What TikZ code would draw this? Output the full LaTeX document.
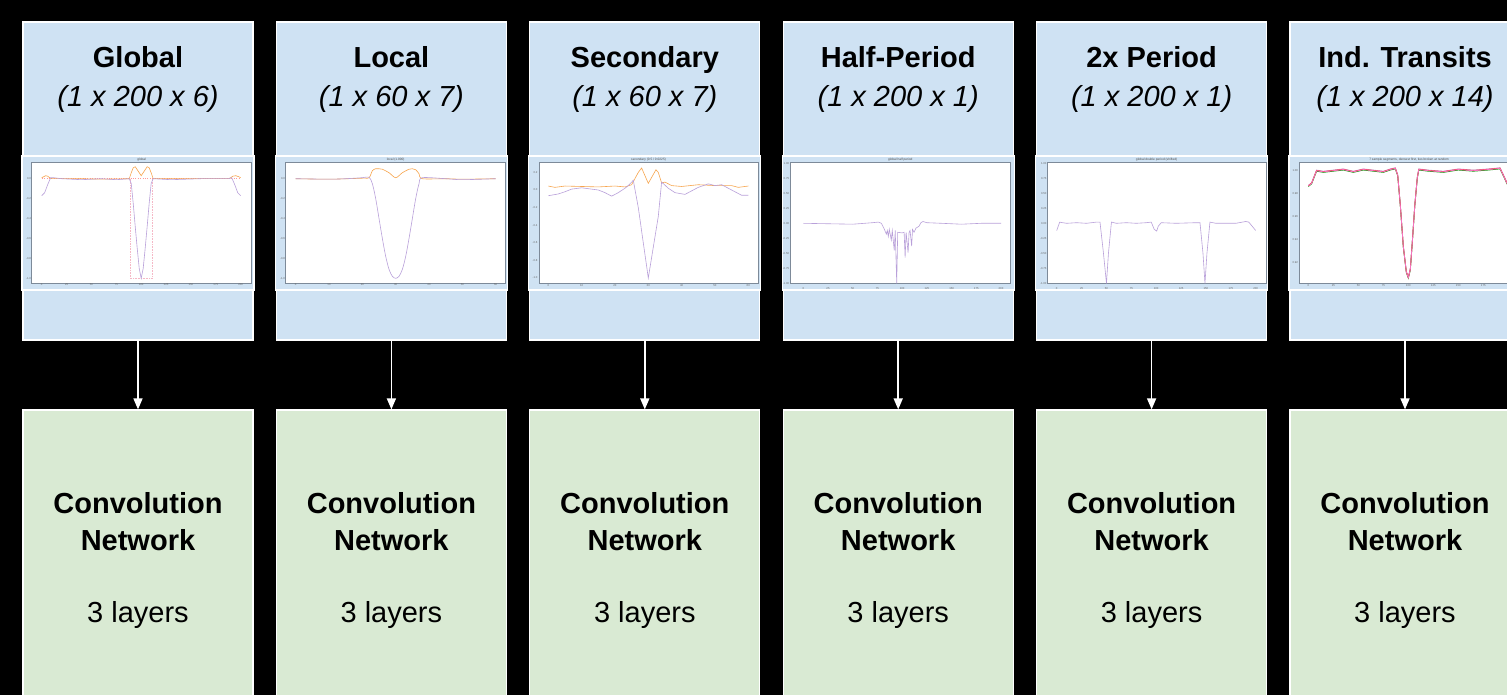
\documentclass[tikz,border=0pt]{standalone}
\usepackage{fontspec}
\setmainfont{Liberation Sans}
\usetikzlibrary{arrows.meta}
\definecolor{inblue}{HTML}{CFE2F3}
\definecolor{convgreen}{HTML}{D9EAD3}
\definecolor{curvepurple}{HTML}{B9A0DA}
\definecolor{curveorange}{HTML}{F7A54E}
\definecolor{boxpink}{HTML}{F5B8C6}
\definecolor{axgray}{HTML}{7D8A99}
\tikzset{
  inbox/.style={draw=white,line width=1.2pt,fill=inblue,minimum width=230pt,minimum height=318pt,inner sep=0pt},
  convbox/.style={draw=white,line width=1.2pt,fill=convgreen,minimum width=230pt,minimum height=300pt,inner sep=0pt,align=center,font=\fontsize{29}{37}\selectfont},
  ttl/.style={anchor=base,inner sep=0pt,font=\bfseries\fontsize{29}{34}\selectfont},
  dims/.style={anchor=base,inner sep=0pt,font=\itshape\fontsize{29}{34}\selectfont},
  panel/.style={draw=white,line width=1.2pt,fill=inblue},
  axes/.style={draw=axgray,line width=0.6pt,fill=white},
  ptitle/.style={inner sep=0pt,text=black!70,font=\fontsize{3.2}{3.2}\selectfont},
  tick/.style={inner sep=0.6pt,text=black!60,font=\fontsize{2.8}{2.8}\selectfont},
  curve/.style={line width=0.6pt},
  feed/.style={draw=white,line width=1.5pt,-{Triangle[length=11pt,width=9pt]}}
}
\begin{document}
\begin{tikzpicture}[x=1pt,y=-1pt]
\useasboundingbox (0,0) rectangle (1507,695);
\clip (0,0) rectangle (1507,695);
\fill[black] (0,0) rectangle (1507,695);

% input boxes
\node[inbox] (i1) at (138,181) {};
\node[inbox] (i2) at (391.4,181) {};
\node[inbox] (i3) at (644.8,181) {};
\node[inbox] (i4) at (898.2,181) {};
\node[inbox] (i5) at (1151.6,181) {};
\node[inbox] (i6) at (1405,181) {};
\node[ttl] (g1) at (138,68) {Global};
\node[ttl] (g2) at (391.4,68) {Local};
\node[ttl] (g3) at (644.8,68) {Secondary};
\node[ttl] (g4) at (898.2,68) {Half-Period};
\node[ttl] (g5) at (1151.6,68) {2x Period};
\node[ttl] (g6) at (1405,68) {Ind. Transits};
\node[dims] (d1) at (138,107) {(1 x 200 x 6)};
\node[dims] (d2) at (391.4,107) {(1 x 60 x 7)};
\node[dims] (d3) at (644.8,107) {(1 x 60 x 7)};
\node[dims] (d4) at (898.2,107) {(1 x 200 x 1)};
\node[dims] (d5) at (1151.6,107) {(1 x 200 x 1)};
\node[dims] (d6) at (1405,107) {(1 x 200 x 14)};

% convolution boxes
\node[convbox] (n1) at (138,560) {\textbf{Convolution}\\\textbf{Network}\\[35pt]3 layers};
\node[convbox] (n2) at (391.4,560) {\textbf{Convolution}\\\textbf{Network}\\[35pt]3 layers};
\node[convbox] (n3) at (644.8,560) {\textbf{Convolution}\\\textbf{Network}\\[35pt]3 layers};
\node[convbox] (n4) at (898.2,560) {\textbf{Convolution}\\\textbf{Network}\\[35pt]3 layers};
\node[convbox] (n5) at (1151.6,560) {\textbf{Convolution}\\\textbf{Network}\\[35pt]3 layers};
\node[convbox] (n6) at (1405,560) {\textbf{Convolution}\\\textbf{Network}\\[35pt]3 layers};

\draw[feed] (i1) -- (n1);
\draw[feed] (i2) -- (n2);
\draw[feed] (i3) -- (n3);
\draw[feed] (i4) -- (n4);
\draw[feed] (i5) -- (n5);
\draw[feed] (i6) -- (n6);

% plot panels
\draw[panel] (22,156) rectangle (254,290);
\draw[panel] (275.4,156) rectangle (507.4,290);
\draw[panel] (528.8,156) rectangle (760.8,290);
\draw[panel] (782.2,156) rectangle (1014.2,290);
\draw[panel] (1035.6,156) rectangle (1267.6,290);
\draw[panel] (1289,156) rectangle (1521,290);
\draw[axes] (31.7,162) rectangle (251.7,283);
\draw[axes] (285.7,162) rectangle (505.7,283);
\draw[axes] (539,162) rectangle (758,283);
\draw[axes] (790,162) rectangle (1010.7,283);
\draw[axes] (1047.3,162) rectangle (1266,283);
\draw[axes] (1299,162) rectangle (1519,283);
\node[ptitle] (h1) at (141.7,159.4) {global};
\node[ptitle] (h2) at (395.7,159.4) {local (1.000)};
\node[ptitle] (h3) at (648.5,159.4) {secondary (0.5 / 0.0225)};
\node[ptitle] (h4) at (900.3,159.4) {global half period};
\node[ptitle] (h5) at (1156.6,159.4) {global double period (shifted)};
\node[ptitle] (h6) at (1409,159.4) {7 sample segments, densest first, ties broken at random};

% global
\begin{scope}[shift={(41.7pt,-178.7pt)},x=0.995pt,y=99.6pt]
\foreach \t in {0,25,...,200} \node[tick,anchor=north] (ax\t) at (\t,-1.045) {\t};
\foreach \v [count=\k] in {0.0,-0.2,-0.4,-0.6,-0.8,-1.0} \node[tick,anchor=east] (ay\k) at (-10,\v) {\v};
\draw[boxpink,densely dotted,line width=0.6pt] (89,0) -- (89,-1) -- (111,-1) -- (111,0);
\draw[red!40,dotted,line width=0.4pt] (0,0) -- (200,0);
\draw[curve,curveorange] plot coordinates {(0,0.01) (2,0.02) (4,0.03) (6,0.025) (8,0.01) (10,0) (40,0) (60,-0.005) (88,0) (90,0.06) (92,0.11) (94,0.12) (96,0.09) (100,0.03) (104,0.09) (106,0.12) (108,0.11) (110,0.06) (112,0) (150,0) (188,0) (190,0.01) (192,0.025) (195,0.03) (198,0.02) (200,0.01)};
\draw[curve,curvepurple] plot coordinates {(0,-0.17) (3,-0.14) (6,-0.06) (9,0.01) (12,0.01) (20,0) (40,-0.01) (60,0) (75,-0.01) (88,0) (90,-0.05) (92,-0.25) (94,-0.48) (96,-0.7) (98,-0.9) (100,-1.0) (102,-0.9) (104,-0.7) (106,-0.48) (108,-0.25) (110,-0.05) (112,0) (130,-0.01) (160,0) (188,0) (191,0.01) (194,-0.06) (197,-0.14) (200,-0.17)};
\end{scope}

% local
\begin{scope}[shift={(295.7pt,-178.7pt)},x=3.333pt,y=99.6pt]
\foreach \t in {0,10,...,60} \node[tick,anchor=north] (bx\t) at (\t,-1.045) {\t};
\foreach \v [count=\k] in {0.0,-0.2,-0.4,-0.6,-0.8,-1.0} \node[tick,anchor=east] (by\k) at (-3,\v) {\v};
\draw[curve,curveorange] plot[smooth] coordinates {(0,0) (10,-0.005) (20,0.005) (22,0.01) (23,0.08) (24,0.1) (25,0.1) (26,0.095) (28,0.06) (30,0.01) (32,0.06) (34,0.095) (35,0.1) (36,0.09) (37,0.05) (38,0) (45,0) (50,-0.005) (60,0)};
\draw[curve,curvepurple] plot[smooth] coordinates {(0,0) (10,-0.005) (15,0) (20,0.01) (22,0.015) (23,-0.05) (24,-0.2) (25,-0.4) (26,-0.6) (27,-0.78) (28,-0.91) (29,-0.98) (30,-1.0) (31,-0.98) (32,-0.91) (33,-0.78) (34,-0.6) (35,-0.4) (36,-0.2) (37,-0.05) (38,0.01) (45,0) (50,-0.01) (60,0)};
\end{scope}

% secondary
\begin{scope}[shift={(548.3pt,-190pt)},x=3.333pt,y=88pt]
\foreach \t in {0,10,...,60} \node[tick,anchor=north] (cx\t) at (\t,-1.065) {\t};
\foreach \v [count=\k] in {0.2,0.0,-0.2,-0.4,-0.6,-0.8,-1.0} \node[tick,anchor=east] (cy\k) at (-3,\v) {\v};
\draw[curve,curveorange] plot coordinates {(0,0.045) (2,0.03) (5,0.045) (10,0.04) (15,0.035) (20,0.045) (23,0.035) (25,0.06) (27,0.2) (28,0.25) (30,0.076) (32.3,0.23) (33,0.2) (34,0.08) (35,0.09) (37,0.05) (40,0.04) (45,0.06) (50,0.05) (55,0.05) (57,0.03) (60,0.045)};
\draw[curve,curvepurple] plot coordinates {(0,-0.065) (3,-0.045) (5,-0.02) (7,0.01) (10,0.025) (13,0.01) (15,0) (17,-0.03) (19,-0.07) (21,-0.03) (23,0.02) (24,0.05) (25.5,0.11) (27,-0.2) (30,-1.0) (33,-0.3) (34,0.09) (36,0.02) (38,-0.03) (41,-0.05) (43,-0.01) (45,0.03) (48,0.07) (50,0.05) (52,0.06) (55,0) (58,-0.06) (60,-0.06)};
\end{scope}

% half period
\begin{scope}[shift={(803.3pt,-223.3pt)},x=0.9885pt,y=60pt]
\foreach \t in {0,25,...,200} \node[tick,anchor=north] (dx\t) at (\t,-1.06) {\t};
\foreach \v [count=\k] in {1.00,0.75,0.50,0.25,0.00,-0.25,-0.50,-0.75,-1.00} \node[tick,anchor=east] (dy\k) at (-13.5,\v) {\v};
\draw[curve,curvepurple] plot coordinates {(0,0) (50,-0.015) (70,0.01) (76,0.02) (79,0) (82,-0.1) (84,-0.18) (85,-0.12) (86,-0.22) (87,-0.1) (89,-0.28) (90,-0.12) (92,-0.45) (93,-0.12) (94.5,-1.0) (95.5,-0.15) (100,-0.16) (102,-0.15) (103,-0.57) (104,-0.15) (106,-0.49) (107,-0.15) (108,-0.12) (109.6,-0.38) (110.5,-0.1) (112,-0.15) (114,-0.08) (117,-0.05) (119,0.01) (121,0.03) (125,0.01) (140,0) (160,-0.015) (180,0) (200,0)};
\end{scope}

% double period
\begin{scope}[shift={(1056.7pt,-223.3pt)},x=0.995pt,y=60pt]
\foreach \t in {0,25,...,200} \node[tick,anchor=north] (ex\t) at (\t,-1.06) {\t};
\foreach \v [count=\k] in {1.00,0.75,0.50,0.25,0.00,-0.25,-0.50,-0.75,-1.00} \node[tick,anchor=east] (ey\k) at (-9.5,\v) {\v};
\draw[curve,curvepurple] plot coordinates {(0,-0.12) (3,0.02) (6,0.01) (10,0) (20,0.01) (30,0) (40,0.02) (43.5,0.02) (47,-0.5) (50,-1.0) (52,-0.5) (55,0.02) (60,0) (70,0.01) (80,0) (90,0.01) (95,0.02) (98,-0.1) (100.5,-0.13) (102,-0.05) (105,0.01) (120,0) (140,0.01) (144,0.01) (147,-0.5) (149,-1.0) (151,-0.5) (154,0.02) (160,0) (180,0) (190,0.03) (193,0.02) (200,-0.12)};
\end{scope}

% individual transits
\begin{scope}[shift={(1308.3pt,-170.7pt)},x=1pt,y=1150pt]
\foreach \t in {0,25,...,175} \node[tick,anchor=north] (fx\t) at (\t,-0.0985) {\t};
\foreach \v [count=\k] in {1.00,0.98,0.96,0.94,0.92} \node[tick,anchor=east] (fy\k) at (-9.5,\v-1) {\v};
\foreach \c/\s in {curvepurple/0.6,green!60!black/-0.5,red!80/0.3,magenta!55/0} {
\draw[\c,line width=0.8pt,yshift=\s pt] plot coordinates {(0,-0.0133) (3.3,-0.011) (6,-0.005) (8.3,0) (15,-0.001) (25,0) (35,0.001) (45,-0.001) (55,0.001) (65,0) (75,-0.001) (82,0.001) (87,0.002) (89.4,-0.004) (92,-0.03) (95,-0.066) (98,-0.088) (100,-0.093) (102,-0.086) (104,-0.062) (106.5,-0.03) (109,-0.006) (110.5,0.001) (120,0) (135,-0.001) (150,0.001) (165,0) (180,0.001) (191.7,0.002) (195,-0.004) (198.7,-0.011) (202,-0.016)};
}
\end{scope}
\end{tikzpicture}
\end{document}
